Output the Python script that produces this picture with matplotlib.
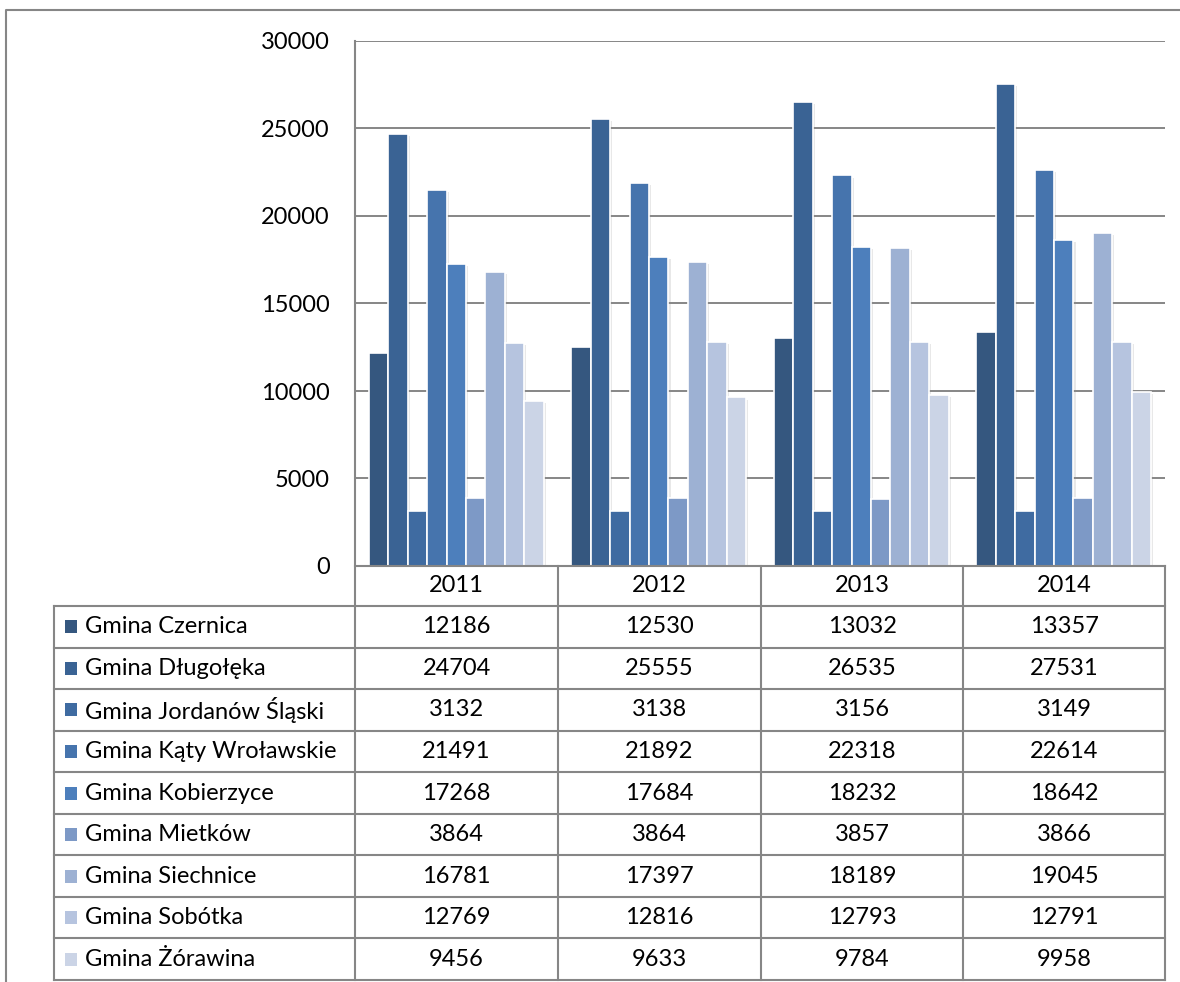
import matplotlib
matplotlib.use("Agg")
import matplotlib.pyplot as plt
import matplotlib.patheffects as pe
from matplotlib.lines import Line2D
from matplotlib.patches import Rectangle
import numpy as np

years = ["2011", "2012", "2013", "2014"]
gminy = ["Gmina Czernica", "Gmina Długołęka", "Gmina Jordanów Śląski",
         "Gmina Kąty Wroławskie", "Gmina Kobierzyce", "Gmina Mietków",
         "Gmina Siechnice", "Gmina Sobótka", "Gmina Żórawina"]
czernica = [12186, 12530, 13032, 13357]
dlugoleka = [24704, 25555, 26535, 27531]
jordanow = [3132, 3138, 3156, 3149]
katy = [21491, 21892, 22318, 22614]
kobierzyce = [17268, 17684, 18232, 18642]
mietkow = [3864, 3864, 3857, 3866]
siechnice = [16781, 17397, 18189, 19045]
sobotka = [12769, 12816, 12793, 12791]
zorawina = [9456, 9633, 9784, 9958]
series = [czernica, dlugoleka, jordanow, katy, kobierzyce, mietkow,
          siechnice, sobotka, zorawina]
yticks = [0, 5000, 10000, 15000, 20000, 25000, 30000]

colors = ['#35577F', '#3A6394', '#3F6BA1', '#4674AD', '#4D7FBC',
          '#7D99C6', '#9DB1D3', '#B6C4DF', '#CBD4E6']

W, H = 1180, 982
FONT = 'Lato'
FS = 17
GRID = '#868686'
plt.rcParams['font.family'] = [FONT, 'DejaVu Sans']

fig = plt.figure(figsize=(W / 100, H / 100), dpi=100)

def fx(px):
    return px / W

def fy(py):
    return 1 - py / H

# plot area
L, R, T, B = 355, 1165, 41, 566
ax = fig.add_axes([fx(L), fy(B), fx(R) - fx(L), fy(T) - fy(B)])
ax.set_xlim(0, len(years))
ax.set_ylim(0, 30000)
for s in ax.spines.values():
    s.set_visible(False)
ax.set_xticks([])
ax.set_yticks(yticks)
ax.set_yticklabels([str(v) for v in yticks], fontsize=FS, fontfamily=FONT)
ax.tick_params(axis='y', length=0, pad=18)
ax.yaxis.grid(True, color=GRID, linewidth=1.4)
ax.set_axisbelow(True)

n = len(series)
bw = 0.096
x = np.arange(len(years)) + 0.5
for i, (vals, c) in enumerate(zip(series, colors)):
    off = (i - (n - 1) / 2) * bw
    bars = ax.bar(x + off, vals, width=bw, color=c, edgecolor='white',
                  linewidth=1.2, zorder=3)
    for b in bars:
        b.set_path_effects([pe.SimplePatchShadow(offset=(1.5, -1.5),
                                                 shadow_rgbFace='#909090',
                                                 alpha=0.2),
                            pe.Normal()])

# table lines
col_x = [L, 558, 761, 963, R]
tab_left = 54
header_top, header_bot = 566, 606
row_h = (980 - header_bot) / len(gminy)
row_y = [header_bot + k * row_h for k in range(len(gminy) + 1)]

def hline(x0, x1, y):
    fig.add_artist(Line2D([fx(x0), fx(x1)], [fy(y), fy(y)], color=GRID,
                          linewidth=1.5, transform=fig.transFigure, zorder=5))

def vline(xp, y0, y1):
    fig.add_artist(Line2D([fx(xp), fx(xp)], [fy(y0), fy(y1)], color=GRID,
                          linewidth=1.5, transform=fig.transFigure, zorder=5))

hline(L, R, header_top)
for yy in row_y:
    hline(tab_left, R, yy)
vline(L, T, row_y[-1])
for cx in col_x[1:]:
    vline(cx, header_top, row_y[-1])
vline(tab_left, header_bot, row_y[-1])

# outer frame
fig.add_artist(Line2D([fx(6), fx(6), fx(W + 5)], [fy(H + 5), fy(10), fy(10)],
                      color=GRID, linewidth=1.5, transform=fig.transFigure))

# header years
for j, yr in enumerate(years):
    cx = (col_x[j] + col_x[j + 1]) / 2
    fig.text(fx(cx), fy((header_top + header_bot) / 2), yr, ha='center',
             va='center', fontsize=FS, fontfamily=FONT)

# rows
for i, (name, vals, c) in enumerate(zip(gminy, series, colors)):
    cy = (row_y[i] + row_y[i + 1]) / 2
    fig.add_artist(Rectangle((fx(65), fy(cy + 6.5)), fx(12), 13 / H,
                             facecolor=c, edgecolor='none',
                             transform=fig.transFigure))
    fig.text(fx(85), fy(cy), name, ha='left', va='center', fontsize=FS,
             fontfamily=FONT)
    for j, v in enumerate(vals):
        cx = (col_x[j] + col_x[j + 1]) / 2
        fig.text(fx(cx), fy(cy), str(v), ha='center', va='center',
                 fontsize=FS, fontfamily=FONT)

fig.savefig('out.png', dpi=100)
